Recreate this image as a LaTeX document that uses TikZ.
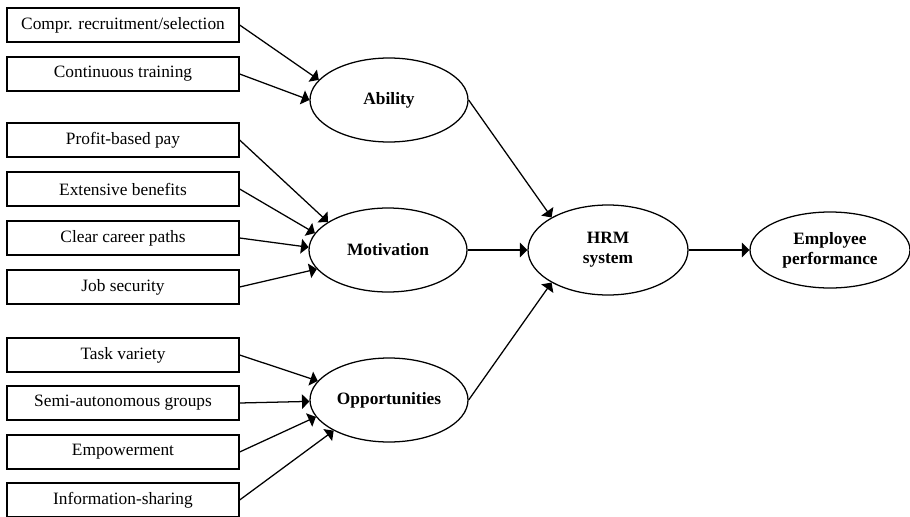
\documentclass[tikz,border=0pt]{standalone}
\usepackage{fontspec}
\setmainfont{Liberation Serif}
\usetikzlibrary{arrows}
\usetikzlibrary{shapes.geometric}

\begin{document}
\begin{tikzpicture}[x=0.75pt, y=-0.75pt, >=triangle 90, line width=0.95pt,
  every node/.style={font=\fontsize{13}{15}\selectfont},
  item/.style={draw, rectangle, minimum width=174pt, minimum height=25.5pt, inner sep=0pt},
  factor/.style={draw, ellipse, minimum width=118.5pt, minimum height=63pt, inner sep=0pt,
    align=center, font=\fontsize{13}{15}\selectfont\bfseries}]
 \useasboundingbox (0,0) rectangle (910,517);
 \begin {scope}
  % practices
  \node [item] (recruit) at (123,25) {Compr. recruitment/selection};
  \node [item] (training) at (123,74) {Continuous training};
  \node [item] (pay) at (123,140) {Profit-based pay};
  \node [item] (benefits) at (123,189) {Extensive benefits};
  \node [item] (career) at (123,238) {Clear career paths};
  \node [item] (security) at (123,287) {Job security};
  \node [item] (variety) at (123,355) {Task variety};
  \node [item] (groups) at (123,403) {Semi-autonomous groups};
  \node [item] (empower) at (123,452) {Empowerment};
  \node [item] (sharing) at (123,500) {Information-sharing};
  % dimensions
  \node [factor] (ability) at (389,100) {Ability};
  \node [factor] (motivation) at (388,250) {Motivation};
  \node [factor] (opport) at (389,400) {Opportunities};
  \node [factor, minimum width=120pt, minimum height=67.5pt] (hrm) at (608,250) {HRM\\system};
  \node [factor, minimum width=120pt, minimum height=57pt] (perf) at (830,250) {Employee\\performance};
 \end {scope}
 \begin {scope}
  \draw [->] (recruit.east) -- (ability.164);
  \draw [->] (training.east) -- (ability.180);
  \draw [->] (pay.east) -- (motivation.155);
  \draw [->] (benefits.east) -- (motivation.167);
  \draw [->] (career.east) -- (motivation.178);
  \draw [->] (security.east) -- (motivation.195);
  \draw [->] (variety.east) -- (opport.165);
  \draw [->] (groups.east) -- (opport.181);
  \draw [->] (empower.east) -- (opport.193);
  \draw [->] (sharing.east) -- (opport.209);
  \draw [->] (ability.east) -- (hrm.150);
  \draw [->] (motivation.east) -- (hrm.west);
  \draw [->] (opport.east) -- (hrm.210);
  \draw [->] (hrm.east) -- (perf.west);
 \end {scope}
\end{tikzpicture}
\end{document}
